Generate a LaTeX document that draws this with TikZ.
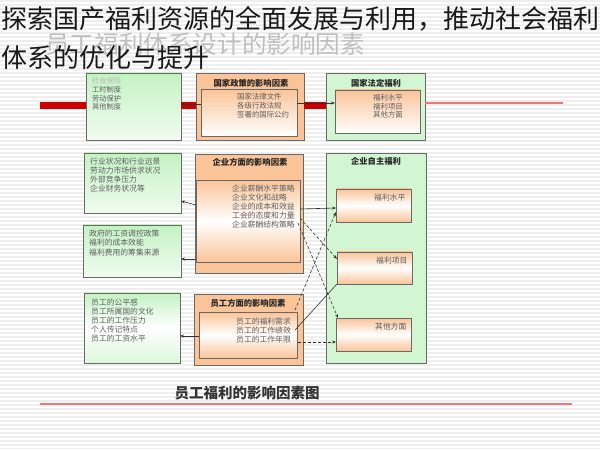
\documentclass[tikz,border=0pt]{standalone}
\usepackage{fontspec}
\setmainfont{Noto Sans CJK SC}
\usetikzlibrary{arrows.meta,calc}
\definecolor{peach}{RGB}{250,196,152}
\definecolor{gr}{RGB}{196,242,196}
\definecolor{grD}{RGB}{210,246,210}
\definecolor{bd}{RGB}{105,105,105}
\definecolor{tx}{RGB}{95,95,95}
\definecolor{redbar}{RGB}{204,0,0}
\definecolor{pinkline}{RGB}{236,120,120}
\tikzset{
  box/.style={draw=bd, line width=0.9pt, anchor=north west, inner sep=0pt, outer sep=0pt},
  gbox/.style={box, top color=gr, bottom color=gr!25},
  gbox3/.style={box, top color=gr, bottom color=gr!60, middle color=white},
  obox/.style={box, fill=peach},
  ibox/.style={box, top color=peach, bottom color=peach, middle color=white},
  iboxw/.style={box, top color=peach, bottom color=white},
  txt/.style={font=\fontsize{7.8}{9}\selectfont, text=tx, align=left, anchor=north west, inner sep=0pt},
  ttl/.style={font=\fontsize{8.3}{9}\selectfont\bfseries, text=black!85, anchor=center, inner sep=0pt},
  arr/.style={-{Stealth[length=4pt,width=3pt]}, line width=0.6pt, draw=black!80},
  dsh/.style={arr, dash pattern=on 3pt off 2pt},
  stripe/.style={draw=gray!13, line width=1.6pt}
}
\begin{document}
\begin{tikzpicture}[x=1pt,y=-1pt]
\useasboundingbox (0,0) rectangle (600,449);
\fill[white] (0,0) rectangle (600,449);
\foreach \yy in {1,5,...,449} \draw[stripe] (0,\yy) -- (600,\yy);

% overlay titles
\node[anchor=west, inner sep=0pt, text=gray!50, font=\fontsize{24.6}{26}\selectfont] (bgt) at (45,44) {员工福利体系设计的影响因素};

% red bars
\fill[redbar] (40,102) rectangle (86,109);

% top row
\node[gbox, minimum width=95pt, minimum height=67pt] (b1) at (86,73) {};
\node[txt, font=\fontsize{7.2}{8.7}\selectfont] (b1t) at (92,77.5) {{\color{tx!45}社会保险}\\工时制度\\劳动保护\\其他制度};

\node[obox, minimum width=108pt, minimum height=67pt] (b2) at (196,73) {};
\node[ttl] (b2h) at (251,83) {国家政策的影响因素};
\node[iboxw, minimum width=96pt, minimum height=47pt] (b2i) at (201,89) {};
\node[txt, font=\fontsize{7.4}{9}\selectfont] (b2t) at (237,93.5) {国家法律文件\\各级行政法规\\签署的国际公约};

\node[box, fill=grD, minimum width=99pt, minimum height=67pt] (b3) at (326,73) {};
\node[ttl] (b3h) at (376,83) {国家法定福利};
\node[iboxw, minimum width=85pt, minimum height=43pt] (b3i) at (335,90) {};
\node[txt, font=\fontsize{7.4}{8.7}\selectfont] (b3t) at (373,94) {福利水平\\福利项目\\其他方面};

\fill[redbar] (b1.east |- 0,102) rectangle (b2.west |- 0,109);
\fill[redbar] (b2.east |- 0,102) rectangle (b3.west |- 0,109);
\draw[pinkline, line width=1.1pt] (b3.east |- 0,103) -- (563,103);

\draw[arr] (b2i.west |- 0,104) -- (b1.east |- 0,104);
\draw[arr] (b2i.east |- 0,103) -- (b3i.west |- 0,103);

% middle row
\node[gbox, minimum width=97pt, minimum height=60pt] (A) at (84,153) {};
\node[txt] (At) at (90,157.5) {行业状况和行业远景\\劳动力市场供求状况\\外部竞争压力\\企业财务状况等};

\node[gbox, minimum width=98pt, minimum height=52pt] (B) at (83,225) {};
\node[txt, font=\fontsize{7.8}{9.5}\selectfont] (Bt) at (89,229.5) {政府的工资调控政策\\福利的成本效能\\福利费用的筹集来源};

\node[obox, minimum width=108pt, minimum height=119pt] (C) at (195,154) {};
\node[ttl] (Ch) at (250,162) {企业方面的影响因素};
\node[ibox, minimum width=104pt, minimum height=82pt] (ci) at (196,180) {};
\node[txt] (Ct) at (232,184.5) {企业薪酬水平策略\\企业文化和战略\\企业的成本和效益\\工会的态度和力量\\企业薪酬结构策略};

\node[box, fill=grD, minimum width=100pt, minimum height=210pt] (D) at (326,153) {};
\node[ttl] (Dh) at (376,161) {企业自主福利};
\node[ibox, minimum width=75pt, minimum height=33pt] (d1) at (336,189) {};
\node[txt] (d1t) at (374,193.5) {福利水平};
\node[ibox, minimum width=75pt, minimum height=32pt] (d2) at (337,252) {};
\node[txt] (d2t) at (376,256.5) {福利项目};
\node[ibox, minimum width=75pt, minimum height=33pt] (d3) at (336,318) {};
\node[txt] (d3t) at (375,322.5) {其他方面};

% bottom row
\node[gbox3, minimum width=96pt, minimum height=70pt] (E) at (84,293) {};
\node[txt] (Et) at (91,298.5) {员工的公平感\\员工所属国的文化\\员工的工作压力\\个人传记特点\\员工的工资水平};

\node[obox, minimum width=109pt, minimum height=71pt] (F) at (194,294) {};
\node[ttl] (Fh) at (248,303) {员工方面的影响因素};
\node[ibox, minimum width=98pt, minimum height=46pt] (fi) at (199,312) {};
\node[txt] (Ft) at (236,317.5) {员工的福利需求\\员工的工作绩效\\员工的工作年限};

% connectors
\draw[arr] (ci.west |- 0,205) -- (A.east |- 0,201);
\draw[arr] (C.west |- 0,259) -- (B.east |- 0,259);
\draw[arr] (fi.west |- 0,336) -- (E.east |- 0,336);

\draw[arr] (ci.east |- 0,209) -- (d1.west |- 0,208);
\draw[dsh] (ci.east |- 0,218) -- (d2.west |- 0,259);
\draw[dsh] ([xshift=-2pt]ci.east |- 0,223) -- ([xshift=2pt]d3.north west);
\draw[dsh] ([xshift=-2pt]fi.east |- 0,310) -- (d1.west |- 0,212);
\draw[line width=0.6pt, black!80] ([xshift=-2pt]fi.east |- 0,330) -- (d2.south west);
\draw[dsh] ([xshift=1pt]fi.east |- 0,342) -- (d3.west |- 0,342);

% caption
\node[inner sep=0pt, font=\fontsize{14.5}{16}\selectfont\bfseries, text=black!80] (cap) at (247,393) {员工福利的影响因素图};
\draw[pinkline, line width=1.1pt] (40,404) -- (572,404);

% overlay black title
\node[anchor=west, inner sep=0pt, text=black!90, font=\fontsize{26}{28}\selectfont] (t1) at (1,19) {探索国产福利资源的全面发展与利用，推动社会福利};
\node[anchor=west, inner sep=0pt, text=black!90, font=\fontsize{26}{28}\selectfont] (t2) at (1,58) {体系的优化与提升};
\end{tikzpicture}
\end{document}
